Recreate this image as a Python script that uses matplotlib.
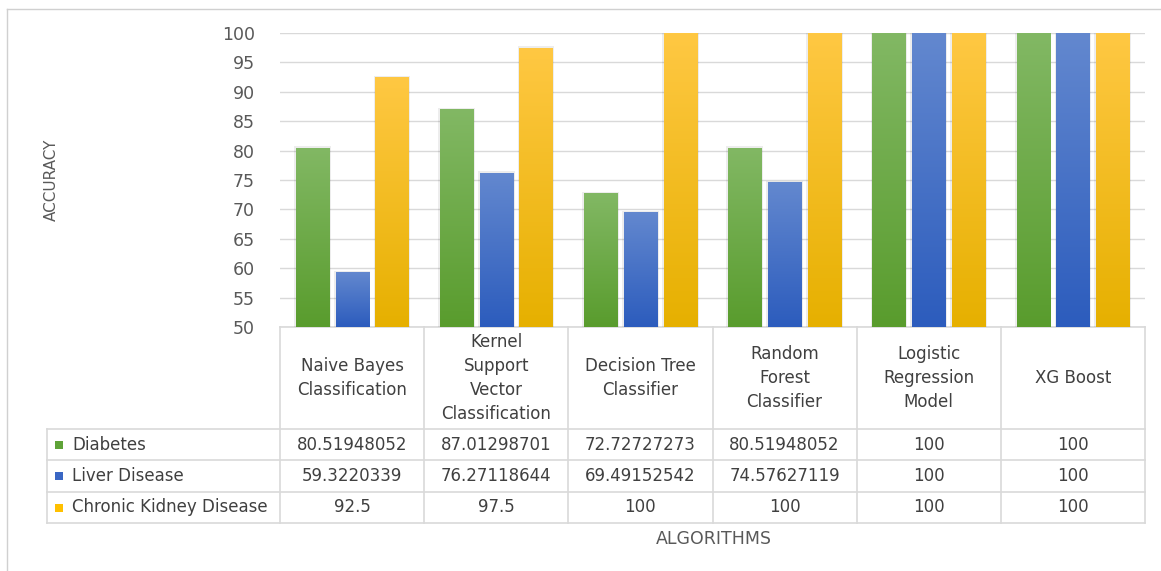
import numpy as np
import matplotlib
matplotlib.use('Agg')
import matplotlib.pyplot as plt
from matplotlib.colors import LinearSegmentedColormap
from matplotlib.patches import Rectangle

algorithms = ['Naive Bayes\nClassification', 'Kernel\nSupport\nVector\nClassification',
              'Decision Tree\nClassifier', 'Random\nForest\nClassifier',
              'Logistic\nRegression\nModel', 'XG Boost']
series = ['Diabetes', 'Liver Disease', 'Chronic Kidney Disease']
diabetes = [80.51948052, 87.01298701, 72.72727273, 80.51948052, 100, 100]
liver = [59.3220339, 76.27118644, 69.49152542, 74.57627119, 100, 100]
kidney = [92.5, 97.5, 100, 100, 100, 100]
# table cells as printed
diabetes_txt = ['80.51948052', '87.01298701', '72.72727273', '80.51948052', '100', '100']
liver_txt = ['59.3220339', '76.27118644', '69.49152542', '74.57627119', '100', '100']
kidney_txt = ['92.5', '97.5', '100', '100', '100', '100']

# (top, bottom) gradient colours per series, plus legend swatch
grads = [('#82B864', '#599C2D'), ('#6388CF', '#2C5CBD'), ('#FFC843', '#E6B000')]
swatch = ['#5FA338', '#3A67C4', '#FFC000']

W, H = 1161, 571
plt.rcParams['font.family'] = ['DejaVu Sans']
fig = plt.figure(figsize=(W / 100, H / 100), dpi=100)

# overlay in pixel coordinates for the frame and the data table
ov = fig.add_axes([0, 0, 1, 1], zorder=0)
ov.set_xlim(0, W)
ov.set_ylim(H, 0)
ov.axis('off')

x0, x1, ytop, ybot = 280, 1145, 33, 327
ax = fig.add_axes([x0 / W, (H - ybot) / H, (x1 - x0) / W, (ybot - ytop) / H], zorder=1)
ax.patch.set_alpha(0)

n = len(algorithms)
idx = np.arange(n)
bw, step = 0.23, 0.276
ymin = 50
for k, vals in enumerate([diabetes, liver, kidney]):
    bars = ax.bar(idx + (k - 1) * step, vals, bw, bottom=0, color='none', zorder=3)
    cmap = LinearSegmentedColormap.from_list('g%d' % k, [grads[k][1], grads[k][0]])
    for b in bars:
        bx, bwid, bh = b.get_x(), b.get_width(), b.get_height()
        # soft shadow
        ax.add_patch(Rectangle((bx - 0.012, ymin), bwid + 0.024, bh - ymin + 0.25,
                               facecolor='#000000', alpha=0.07, edgecolor='none', zorder=2))
        grad = np.linspace(0, 1, 256).reshape(-1, 1)
        im = ax.imshow(grad, cmap=cmap, aspect='auto', origin='lower',
                       extent=(bx, bx + bwid, ymin, bh), zorder=3)
        im.set_clip_path(b)

ax.set_xlim(-0.5, n - 0.5)
ax.set_ylim(50, 100)
ax.set_yticks(np.arange(50, 101, 5))
ax.set_xticks([])
ax.grid(axis='y', color='#D9D9D9', linewidth=1, zorder=0)
ax.set_axisbelow(True)
for s in ax.spines.values():
    s.set_visible(False)
ax.tick_params(axis='y', length=0, pad=18, labelsize=12.5, labelcolor='#595959')

# outer frame
ov.plot([7, 7], [9, H], color='#D0D0D0', lw=1)
ov.plot([7, W], [9, 9], color='#D0D0D0', lw=1)

ov.text(51, 180, 'ACCURACY', rotation=90, ha='center', va='center',
        fontsize=11, color='#595959')

# data table
line_c = '#D9D9D9'
colw = (x1 - x0) / n
cols = [x0 + i * colw for i in range(n + 1)]
hdr_bot = 429
rows = [hdr_bot, 460, 492, 523]
tleft = 47
txt_c = '#404040'

ov.plot([x0, x1], [ybot, ybot], color=line_c, lw=1.2)
for r in rows:
    ov.plot([tleft, x1], [r, r], color=line_c, lw=1.2)
for c in cols:
    ov.plot([c, c], [ybot, rows[-1]], color=line_c, lw=1.2)
ov.plot([tleft, tleft], [hdr_bot, rows[-1]], color=line_c, lw=1.2)

for i, name in enumerate(algorithms):
    ov.text((cols[i] + cols[i + 1]) / 2, (ybot + hdr_bot) / 2, name, ha='center',
            va='center', fontsize=12, color=txt_c, linespacing=1.42)

for j, (lab, cells) in enumerate(zip(series, [diabetes_txt, liver_txt, kidney_txt])):
    yc = (rows[j] + rows[j + 1]) / 2
    ov.add_patch(Rectangle((55, yc - 4), 8, 8, facecolor=swatch[j], edgecolor='none'))
    ov.text(72, yc, lab, ha='left', va='center', fontsize=12, color=txt_c)
    for i, t in enumerate(cells):
        ov.text((cols[i] + cols[i + 1]) / 2, yc, t, ha='center', va='center',
                fontsize=12, color=txt_c)

ov.text(714, 539, 'ALGORITHMS', ha='center', va='center', fontsize=12.5, color='#595959')

fig.savefig('out.png', dpi=100)
